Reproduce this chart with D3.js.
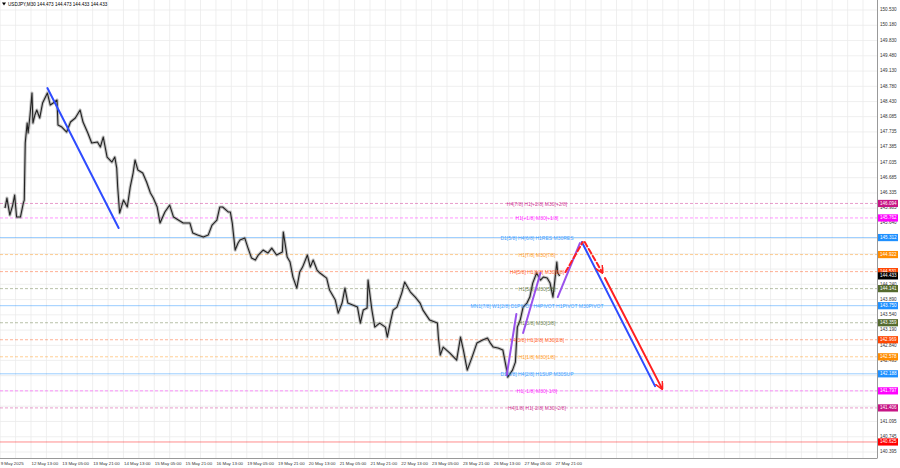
<!DOCTYPE html>
<html><head><meta charset="utf-8">
<script src="https://cdn.jsdelivr.net/npm/d3@7"></script>
<style>html,body{margin:0;padding:0;background:#fff;} svg{display:block;font-family:"Liberation Sans",Arial,sans-serif;}</style>
</head><body>
<svg id="c" width="900" height="468"></svg>
<script>
const titleText = "USDJPY,M30  144.473 144.473 144.433 144.433";
const timeLabels = ["9 May 2025","12 May 13:00","13 May 05:00","13 May 21:00","14 May 13:00","15 May 05:00","15 May 21:00","16 May 13:00","19 May 05:00","19 May 21:00","20 May 13:00","21 May 05:00","21 May 21:00","22 May 13:00","23 May 05:00","23 May 21:00","26 May 13:00","27 May 05:00","27 May 21:00"];
const timeLabelBars = [0,32,64,96,128,160,192,224,256,288,320,352,384,416,448,480,512,544,576];
const gridPrices = [150.530,150.180,149.830,149.480,149.130,148.780,148.430,148.085,147.735,147.385,147.035,146.685,146.335,145.985,145.640,145.290,144.940,144.590,144.240,143.890,143.540,143.190,142.840,142.495,142.145,141.795,141.445,141.095,140.745,140.395];

const priceBars = [5,7,10,13,15,17,21,24,25,26,28,29,31,33,34,36,38,41,44,49,52,55,59,60,64,69,73,78,83,86,91,95,101,104,107,111,116,119,121,122,124,128,132,135,138,140,143,148,152,156,159,163,166,171,176,180,185,190,197,200,205,211,216,220,225,228,231,237,239,241,242,244,247,249,254,257,261,265,268,273,278,282,287,293,294,298,301,304,308,311,314,319,322,325,329,332,339,342,348,351,355,358,361,366,371,374,377,381,382,386,389,394,400,402,405,408,412,417,420,426,431,436,439,446,454,455,457,460,467,474,478,481,485,490,495,501,506,509,512,517,522,526,527,532,535,537,540,543,547,550,553,557,561,564,568,571,574,576,578,579,581];
const priceValues = [145.989,146.218,145.828,146.057,146.287,145.782,145.782,146.103,146.172,147.480,147.938,147.709,148.122,148.626,147.938,148.122,148.236,148.053,148.397,148.626,148.351,148.397,148.466,147.892,147.847,147.732,147.961,148.053,148.236,147.961,147.709,147.480,147.502,147.388,147.617,147.158,147.044,147.158,146.906,146.470,145.874,146.172,146.012,146.470,146.791,147.090,146.860,146.791,146.585,146.333,146.218,146.012,145.645,145.897,146.057,145.782,145.713,145.645,145.645,145.415,145.369,145.324,145.369,145.599,145.713,146.012,146.012,145.897,145.897,145.645,145.438,145.025,145.186,145.255,145.301,145.094,144.842,144.796,144.911,145.025,144.957,145.071,144.911,144.979,145.438,144.865,144.750,144.406,144.154,144.521,144.635,144.911,144.635,144.796,144.567,144.498,144.383,144.108,143.879,143.580,143.810,144.154,143.810,143.764,143.718,143.351,143.649,143.695,144.337,143.649,143.259,143.351,143.259,143.030,143.351,143.649,143.718,144.039,144.291,144.062,143.947,143.810,143.649,143.420,143.351,143.030,142.617,142.801,142.663,142.502,143.030,142.732,142.273,142.571,142.892,142.961,143.007,142.892,142.801,142.778,142.732,142.273,142.112,142.273,142.457,143.259,143.420,143.718,143.810,143.947,144.268,144.498,144.337,144.406,144.383,144.268,143.947,144.337,144.750,144.498,144.429];

const levelPrices = [146.094,145.762,145.312,144.922,144.531,144.141,143.750,143.359,142.969,142.578,142.188,141.797,141.406,140.625];
const levelNames = ["H4[7/8] H1[+2/8] M30[+2/8]","H1[+1/8] M30[+1/8]","D1[5/8] H4[6/8] H1RES M30RES","H1[7/8] M30[7/8]","H4[5/8] H1[6/8] M30[6/8]","H1[5/8] M30[5/8]","MN1[7/8] W1[2/8] D1PIVOT H4PIVOT H1PIVOT M30PIVOT","H1[3/8] M30[3/8]","H4[3/8] H1[2/8] M30[2/8]","H1[1/8] M30[1/8]","D1[4/8] H4[2/8] H1SUP M30SUP","H1[-1/8] M30[-1/8]","H4[1/8] H1[-2/8] M30[-2/8]",""];
const levelColors = ["#c71585","#ff00ff","#1e90ff","#ff8c00","#ff4500","#556b2f","#1e90ff","#556b2f","#ff4500","#ff8c00","#1e90ff","#ff00ff","#c71585","#ff0000"];
const levelDashed = [true,true,false,true,true,true,false,true,true,true,false,true,true,false];
const lastPrice = 144.433;

// trend lines: [bar1, price1, bar2, price2]
const blueLines = [[49,148.741,123,145.530],[604,145.209,680,141.906]];
const purpleLines = [[526,142.158,536,143.560],[543,143.122,561,144.498],[579,143.947,602,145.186]];
const redDashed = [[587,144.521,605,145.209],[607,145.209,625,144.521]];
const redSolid = [[628,144.383,687,141.860]];

const svg = d3.select("#c");
const plotR = 877, plotB = 458;
const x = d3.scaleLinear().domain([0,910.5]).range([0.2,plotR]);
const y = d3.scaleLinear().domain([140.395,150.530]).range([452,10]);

const defs = svg.append("defs");
defs.append("marker").attr("id","arrR").attr("viewBox","0 0 10 10").attr("refX",8).attr("refY",5)
  .attr("markerWidth",4).attr("markerHeight",4).attr("orient","auto-start-reverse")
  .append("path").attr("d","M0,0 L10,5 L0,10").attr("fill","none").attr("stroke","#ff2020").attr("stroke-width",2);
defs.append("clipPath").attr("id","plot").append("rect").attr("x",0).attr("y",0).attr("width",plotR).attr("height",plotB);

const g = svg.append("g").attr("clip-path","url(#plot)");
// grid
g.selectAll("line.vg").data(d3.range(0,911,16)).join("line")
  .attr("x1",d=>x(d)).attr("x2",d=>x(d)).attr("y1",0).attr("y2",plotB)
  .attr("stroke","#ebebeb").attr("stroke-width",0.8);
g.selectAll("line.hg").data(gridPrices).join("line")
  .attr("x1",0).attr("x2",plotR).attr("y1",d=>y(d)).attr("y2",d=>y(d))
  .attr("stroke","#ebebeb").attr("stroke-width",0.8);

// levels
levelPrices.forEach((p,i)=>{
  g.append("line").attr("x1",0).attr("x2",plotR).attr("y1",y(p)).attr("y2",y(p))
    .attr("stroke",levelColors[i]).attr("stroke-width",1)
    .attr("stroke-opacity",levelDashed[i]?0.42:0.45)
    .attr("stroke-dasharray",levelDashed[i]?"3,2":null);
});

// price
const pts = priceBars.map((b,i)=>[b,priceValues[i]]);
const line = d3.line().x(d=>x(d[0])).y(d=>y(d[1]));
g.append("path").attr("d",line(pts)).attr("fill","none").attr("stroke","#888").attr("stroke-opacity",0.5).attr("stroke-width",3.2).attr("stroke-linejoin","round");
g.append("path").attr("d",line(pts)).attr("fill","none").attr("stroke","#222").attr("stroke-width",1.1).attr("stroke-linejoin","round");

// level text labels
levelPrices.forEach((p,i)=>{
  if(!levelNames[i]) return;
  g.append("text").attr("x",537).attr("y",y(p)+1).attr("text-anchor","middle").attr("dominant-baseline","middle")
    .attr("font-size",5).attr("fill",levelColors[i]).attr("fill-opacity",0.85).text(levelNames[i]);
});

// trend lines
function seg(arr,color,w,dash,marker){
  arr.forEach(s=>{
    const l = g.append("line").attr("x1",x(s[0])).attr("y1",y(s[1])).attr("x2",x(s[2])).attr("y2",y(s[3]))
      .attr("stroke",color).attr("stroke-width",w).attr("stroke-linecap","round");
    if(dash) l.attr("stroke-dasharray",dash);
    if(marker) l.attr("marker-end","url(#"+marker+")");
  });
}
seg(blueLines,"#2f4cff",2,null,null);
seg(purpleLines,"#9a52ec",2,null,null);
seg(redDashed.slice(0,1),"#ff2020",2,"5,3",null);
seg(redDashed.slice(1),"#ff2020",2,"5,3","arrR");
seg(redSolid,"#ff2020",2,null,"arrR");

// borders
svg.append("line").attr("x1",plotR+0.5).attr("x2",plotR+0.5).attr("y1",0).attr("y2",plotB).attr("stroke","#999");
svg.append("line").attr("x1",0).attr("x2",plotR+0.5).attr("y1",plotB+0.5).attr("y2",plotB+0.5).attr("stroke","#999");

// level boxes (incl. last price)
const boxes = levelPrices.map((p,i)=>({p,c:levelColors[i]}));
boxes.splice(5,0,{p:lastPrice,c:"#000"});

// right axis grid labels (skip the ones fully hidden behind a level box)
const visibleGrid = gridPrices.filter(gp => !boxes.some(b => Math.abs(y(b.p)-y(gp)) < 3.6));
svg.selectAll("text.pl").data(visibleGrid).join("text")
  .attr("x",880).attr("y",d=>y(d)).attr("dominant-baseline","middle").attr("font-size",4.6).attr("fill","#333")
  .text(d=>d.toFixed(3));
boxes.forEach(b=>{
  svg.append("rect").attr("x",878).attr("y",y(b.p)-3.6).attr("width",20).attr("height",7.2).attr("fill",b.c);
  svg.append("text").attr("x",880).attr("y",y(b.p)+0.2).attr("dominant-baseline","middle").attr("font-size",4.6).attr("fill","#fff").text(b.p.toFixed(3));
});

// time labels
svg.selectAll("text.tl").data(timeLabels).join("text")
  .attr("x",(d,i)=>x(timeLabelBars[i])+0.5).attr("y",464).attr("dominant-baseline","middle").attr("font-size",4.4).attr("fill","#333")
  .text(d=>d);

// title
svg.append("path").attr("d","M2,2.5 L6,2.5 L4,5.5 Z").attr("fill","#000");
svg.append("text").attr("x",8).attr("y",4.5).attr("dominant-baseline","middle").attr("font-size",4.6).attr("fill","#000").text(titleText);
</script>
</body></html>
